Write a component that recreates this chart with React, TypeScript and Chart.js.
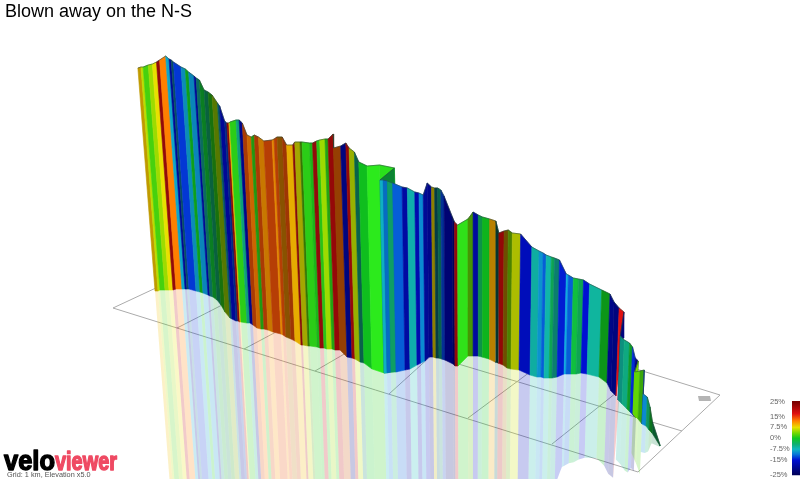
import React, { useEffect, useRef } from "react";
import { Chart, registerables } from "chart.js";

Chart.register(...registerables);

const chartTitle = "Blown away on the N-S";
const gridCaption = "Grid: 1 km, Elevation x5.0";
const legendTicks = [25, 15, 7.5, 0, -7.5, -15, -25];
const legendRange = [-25.4, 25.8];

// Route edges in the projected ground plane: ground position, summit of wall, foot of wall
const edgeX = [
  155, 158, 160, 165, 169, 173, 176, 182, 185, 187, 189, 196, 200, 203, 208, 210, 213, 217, 221, 225,
  230, 232, 236, 238, 240, 241, 247, 250, 253, 257, 261, 264, 268, 273, 281, 283, 286, 291, 295, 301,
  303, 308, 310, 317, 320, 324, 327, 332, 335, 340, 340, 347, 352, 355, 360, 364, 372, 384, 398, 384,
  387, 391, 396, 405, 410, 417, 421, 425, 429, 433, 436, 439, 442, 445, 453, 455, 458, 468, 473, 478,
  482, 489, 495, 498, 503, 507, 511, 519, 530, 537, 541, 544, 549, 552, 557, 564, 566, 571, 576, 581,
  587, 599, 607, 611, 616, 623, 618, 622, 627, 630, 633, 636, 633, 638, 642, 642, 646, 649, 652, 660,
];
const edgeTop = [
  68, 67, 67, 65, 64, 62, 60, 56, 59, 60, 62, 67, 69, 72, 76, 78, 80, 90, 92, 95,
  103, 106, 121, 123, 123, 122, 120, 120, 123, 135, 137, 135, 137, 141, 140, 139, 137, 137, 145, 145,
  142, 142, 142, 143, 143, 141, 140, 139, 139, 134, 148, 146, 143, 148, 152, 162, 166, 165, 168, 180,
  180, 181, 183, 187, 188, 192, 193, 195, 183, 187, 188, 188, 190, 196, 217, 222, 225, 219, 212, 215,
  217, 219, 221, 233, 231, 230, 233, 234, 247, 251, 253, 255, 257, 258, 260, 274, 275, 278, 279, 280,
  284, 290, 294, 302, 308, 312, 336, 340, 343, 347, 358, 361, 372, 371, 370, 394, 397, 407, 422, 445,
];
const edgeBase = [
  291, 291, 290, 290, 290, 290, 289, 289, 289, 289, 289, 291, 292, 293, 295, 296, 297, 300, 305, 312,
  318, 319, 321, 321, 322, 322, 323, 323, 325, 328, 329, 329, 330, 332, 334, 335, 337, 339, 341, 345,
  345, 346, 346, 347, 348, 348, 349, 349, 350, 350, 350, 357, 358, 359, 362, 363, 369, 373, 371, 373,
  373, 372, 372, 370, 369, 365, 363, 361, 357, 357, 358, 358, 359, 360, 364, 366, 366, 356, 356, 356,
  357, 359, 362, 363, 365, 368, 369, 370, 375, 377, 377, 378, 378, 378, 377, 374, 374, 374, 374, 373,
  374, 377, 383, 391, 396, 338, 400, 404, 409, 412, 415, 418, 414, 419, 424, 424, 426, 430, 433, 446,
];

// Gradient (%) of each stripe between two edges, and its lighting factor
const stripeGradient = [
  9, 6, 2, 5, 7.5, 17, 12, -8.5, -20, -9, -13.5, -9, 0, -9.5, -20, -6, -1, -4, 1, 5,
  -8, -20, -13, 17, 9, 1, -5, -21, 14, 12, 1, 14, 11, 14, 11, 14, 11, 14, 9.5, 17,
  7, 3, 1, 0.5, 17, 1, 5, 1, 20, 14, 13, -22, 19, 6, -5, 0, 0.8, 0.8, -2, -8,
  -11, -4, -12, -19, -7, -18, -10, -17, -21, 8, -8, -5, -13, -23, -25, 17, 1, 3, -17, -3,
  0, 10, -6, 21, 10, 4, 6.5, -17, -6.5, -9.5, -12, -6.5, -3, -6, -14.5, -9, -12, -1.5, -3, -15,
  -6, 0, -20, -22, 17, -22, -6, -5, -1, -14, -22, 4, 3, 2, -14, -10, -4, -1, -3,
];
const stripeShade = [
  0.8, 1, 1, 1, 1, 0.65, 1, 1, 1, 0.5, 1, 0.9, 0.8, 0.9, 1, 0.6, 0.65, 0.55, 0.55, 0.55,
  0.5, 1, 0.6, 0.6, 1, 1, 0.9, 1, 0.7, 0.8, 0.75, 0.7, 0.8, 0.75, 0.9, 0.75, 0.55, 0.65, 0.95, 0.6,
  0.75, 0.55, 1, 0.9, 0.65, 0.95, 1, 0.8, 0.8, 0.6, 0.6, 1, 0.75, 0.8, 0.55, 0.95, 1.15, 1.1, 0.7, 1,
  0.9, 0.9, 1, 1, 0.95, 1, 1, 0.8, 1, 0.6, 0.35, 0.55, 0.7, 1, 1, 0.65, 1.1, 0.7, 0.85, 0.8,
  0.9, 0.75, 0.3, 0.85, 0.45, 0.6, 0.85, 1, 0.95, 1, 1, 1, 0.9, 0.7, 1, 1.1, 1, 1, 0.9, 1,
  1, 0.75, 0.9, 1, 1, 1, 0.8, 0.95, 0.8, 1, 1, 1, 1, 0.8, 0.9, 1, 0.85, 0.6, 0.5,
];
// Stripes where the route doubles back: they leave no mirror image on the ground
const unmirroredStripes = [57, 58, 105, 111, 114];

// Ground grid, each line as [x1, y1, x2, y2]
const gridLines = [
  [113, 308, 638, 472],
  [113, 308, 158, 287],
  [638, 472, 720, 395],
  [720, 395, 620, 364],
  [682, 431, 425, 354],
  [177, 328, 226, 303],
  [244, 349, 276, 332],
  [315, 371, 346, 353],
  [389, 394, 432, 355],
  [468, 418, 530, 372],
  [552, 444, 616, 393],
];
const mapMarkX = [698, 710, 711, 699, 698];
const mapMarkY = [396, 396, 401, 401, 396];

const colorStops: [number, number[]][] = [
  [-25, [0, 0, 90]], [-15, [0, 16, 210]], [-11, [8, 120, 216]], [-7.5, [16, 184, 192]],
  [-4, [16, 176, 112]], [0, [16, 200, 32]], [3.5, [112, 216, 0]], [7.5, [232, 224, 0]],
  [12, [255, 128, 0]], [17, [224, 16, 16]], [25, [122, 0, 0]],
];

function gradientColor(g: number, shade = 1, alpha = 1) {
  let rgb = colorStops[colorStops.length - 1][1];
  for (let i = 0; i < colorStops.length - 1; i++) {
    const [a, ca] = colorStops[i];
    const [b, cb] = colorStops[i + 1];
    if (g <= b) {
      const t = Math.max(0, (g - a) / (b - a));
      rgb = ca.map((c, k) => c + (cb[k] - c) * t);
      break;
    }
  }
  const [r, gg, bb] = rgb.map((c) => Math.min(255, Math.round(c * shade)));
  return `rgba(${r},${gg},${bb},${alpha})`;
}

// Perspective lean of a vertical wall line at a ground position
const lean = (x: number) => (470 - x) / 4100;
const topX = (i: number) => edgeX[i] - lean(edgeX[i]) * (edgeBase[i] - edgeTop[i]);
const mirrorLen = (i: number) => (edgeBase[i] - edgeTop[i]) * 0.93;
const mirrorX = (i: number) => edgeX[i] + lean(edgeX[i]) * mirrorLen(i);
const mirrorY = (i: number) => edgeBase[i] + mirrorLen(i);

const shapeStyle = { type: "line" as const, fill: "shape", pointRadius: 0, tension: 0 };

function legendBarColor(c: any) {
  const yGrad = c.chart.scales.yGrad;
  const y0 = yGrad ? yGrad.getPixelForValue(-25) : NaN;
  const y1 = yGrad ? yGrad.getPixelForValue(25) : NaN;
  if (!Number.isFinite(y0) || !Number.isFinite(y1)) return gradientColor(0);
  const grad = c.chart.ctx.createLinearGradient(0, y0, 0, y1);
  colorStops.forEach(([g]) => grad.addColorStop((g + 25) / 50, gradientColor(g)));
  return grad;
}

function buildDatasets() {
  const sets: any[] = [];
  let order = 100000;

  sets.push({
    type: "line", yAxisID: "yGrad", pointRadius: 0, borderWidth: 8, fill: false, order: 0,
    borderColor: legendBarColor,
    borderCapStyle: "butt",
    data: legendRange.map((g) => ({ x: 796, y: g })),
  });

  gridLines.forEach(([x1, y1, x2, y2]) => {
    sets.push({
      type: "line", pointRadius: 0, fill: false, borderColor: "#ababab", borderWidth: 1, order: order--,
      data: [{ x: x1, y: y1 }, { x: x2, y: y2 }],
    });
  });

  sets.push({
    ...shapeStyle, backgroundColor: "#b4b4b4", borderWidth: 0, order: order--,
    data: mapMarkX.map((x, i) => ({ x, y: mapMarkY[i] })),
  });

  stripeGradient.forEach((g, i) => {
    if (unmirroredStripes.includes(i)) return;
    sets.push({
      ...shapeStyle, order: order--, borderWidth: 0,
      backgroundColor: gradientColor(g, Math.min(1, stripeShade[i] + 0.2), 0.22),
      data: [
        { x: edgeX[i], y: edgeBase[i] },
        { x: edgeX[i + 1], y: edgeBase[i + 1] },
        { x: mirrorX(i + 1), y: mirrorY(i + 1) },
        { x: mirrorX(i), y: mirrorY(i) },
      ],
    });
  });

  stripeGradient.forEach((g, i) => {
    const color = gradientColor(g, stripeShade[i]);
    sets.push({
      ...shapeStyle, order: order--, borderWidth: 0.6, borderColor: color, backgroundColor: color,
      data: [
        { x: topX(i), y: edgeTop[i] },
        { x: topX(i + 1), y: edgeTop[i + 1] },
        { x: edgeX[i + 1], y: edgeBase[i + 1] },
        { x: edgeX[i], y: edgeBase[i] },
        { x: topX(i), y: edgeTop[i] },
      ],
    });
  });

  sets.push({
    type: "line", pointRadius: 0, fill: false, tension: 0, borderColor: "rgba(40,70,60,0.7)", borderWidth: 0.8, order: order--,
    data: edgeX.map((_, i) => ({ x: topX(i), y: edgeTop[i] })),
  });
  return sets;
}

const overlayText = {
  id: "overlayText",
  afterDraw(chart: any) {
    const { ctx } = chart;
    const yGrad = chart.scales.yGrad;
    ctx.save();
    ctx.textAlign = "left";
    ctx.textBaseline = "middle";
    ctx.font = "7.5px 'Liberation Sans'";
    ctx.fillStyle = "#666";
    legendTicks.forEach((t) => {
      ctx.fillText(`${t}%`, 770, yGrad.getPixelForValue(t));
    });
    ctx.textBaseline = "alphabetic";
    ctx.lineWidth = 1.4;
    ctx.lineJoin = "round";
    ctx.font = "bold 27px 'Liberation Sans'";
    ctx.fillStyle = "#000";
    ctx.strokeStyle = "#000";
    ctx.fillText("velo", 4, 470, 51);
    ctx.strokeText("velo", 4, 470, 51);
    ctx.font = "bold 25px 'Liberation Sans'";
    ctx.fillStyle = "#ef4a63";
    ctx.strokeStyle = "#ef4a63";
    ctx.fillText("viewer", 55, 470, 62);
    ctx.strokeText("viewer", 55, 470, 62);
    ctx.font = "7.3px 'Liberation Sans'";
    ctx.fillStyle = "#555";
    ctx.textBaseline = "middle";
    ctx.fillText(gridCaption, 7, 475);
    ctx.restore();
  },
};

export default function App() {
  const ref = useRef<HTMLCanvasElement>(null);
  useEffect(() => {
    const chart = new Chart(ref.current as HTMLCanvasElement, {
      type: "line",
      data: { datasets: buildDatasets() },
      plugins: [overlayText],
      options: {
        responsive: false,
        animation: false,
        events: [],
        layout: { padding: { left: 5, right: 0, top: 0, bottom: 0 } },
        plugins: {
          legend: { display: false },
          tooltip: { enabled: false },
          title: {
            display: true,
            text: chartTitle,
            align: "start",
            color: "#000",
            font: { family: "'Liberation Sans'", size: 18, weight: "normal", lineHeight: 1.2 },
            padding: { top: 1, bottom: 0 },
          },
        },
        scales: {
          x: { type: "linear", display: false, min: 5, max: 800 },
          y: { type: "linear", display: false, reverse: true, min: 22.6, max: 479 },
          yGrad: { type: "linear", display: false, min: -28.07, max: 286.7 },
        },
      } as any,
    });
    return () => chart.destroy();
  }, []);
  return (
    <div style={{ position: "absolute", left: 0, top: 0, width: 800, height: 479, background: "#fff" }}>
      <canvas ref={ref} width={800} height={479} style={{ display: "block" }} />
    </div>
  );
}
